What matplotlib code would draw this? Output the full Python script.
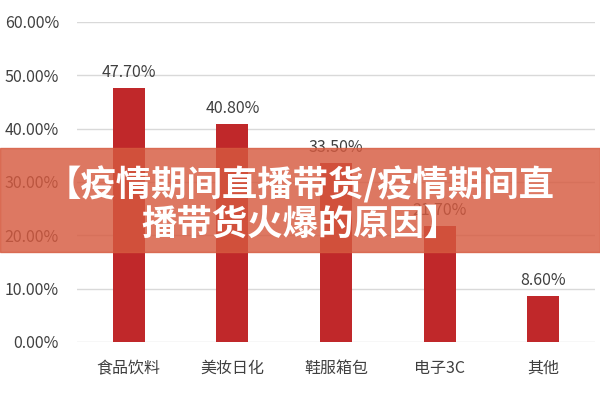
import matplotlib.pyplot as plt
import matplotlib.ticker as ticker

plt.rcParams['font.family'] = ['Noto Sans CJK SC', 'DejaVu Sans']

categories = ['食品饮料', '美妆日化', '鞋服箱包', '电子3C', '其他']
values = [47.7, 40.8, 33.5, 21.7, 8.6]
title_lines = '【疫情期间直播带货/疫情期间直\n播带货火爆的原因】'

fig = plt.figure(figsize=(6, 4), dpi=100)
ax = fig.add_axes([77 / 600, 58 / 400, 518 / 600, 320 / 400])

x = range(len(categories))
ax.bar(x, values, width=0.31, color='#C0282A', zorder=3)
for xi, v in zip(x, values):
    ax.annotate(f'{v:.2f}%', (xi, v), xytext=(0, 5), textcoords='offset points',
                ha='center', va='bottom', fontsize=11.5, color='#404040')

ax.set_ylim(0, 60)
ax.set_xlim(-0.5, len(categories) - 0.5)
ax.yaxis.set_major_locator(ticker.MultipleLocator(10))
ax.yaxis.set_major_formatter(ticker.FuncFormatter(lambda v, p: f'{v:.2f}%'))
ax.set_xticks(list(x))
ax.set_xticklabels(categories)
ax.tick_params(length=0, labelsize=11.5, labelcolor='#404040')
ax.tick_params(axis='x', pad=13)
ax.tick_params(axis='y', pad=13)
ax.grid(axis='y', color='#D9D9D9', linewidth=1, zorder=0)
for s in ax.spines.values():
    s.set_visible(False)

# banner across the middle
fig.patches.append(plt.Rectangle((0, 148 / 400), 1, 104 / 400, transform=fig.transFigure,
                                 color='#D65A3F', alpha=0.82, zorder=5))
fig.text(0.5, 0.49, title_lines, ha='center', va='center', color='white',
         fontsize=25.5, fontweight='black', linespacing=1.15, zorder=6)

fig.savefig('out.png', dpi=100)
